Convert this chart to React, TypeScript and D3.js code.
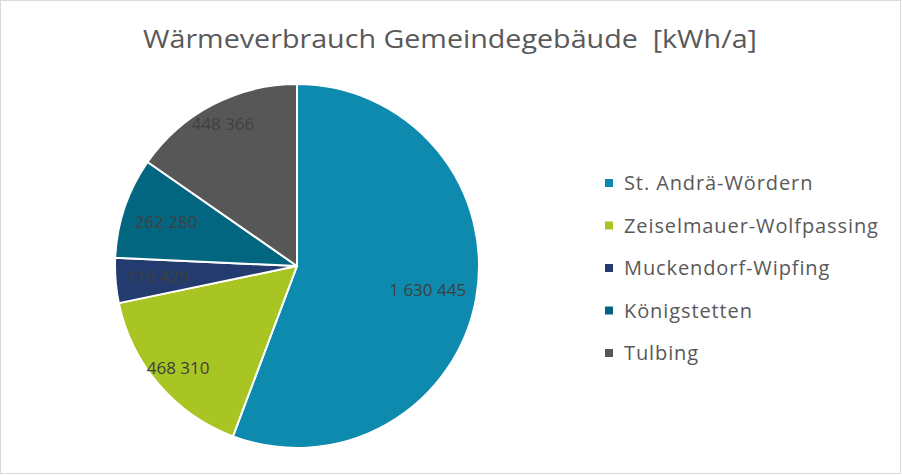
import React from "react";
import * as d3 from "d3";

const categories = [
  "St. Andrä-Wördern",
  "Zeiselmauer-Wolfpassing",
  "Muckendorf-Wipfing",
  "Königstetten",
  "Tulbing",
];
const values = [1630445, 468310, 116429, 262280, 448366];
const labels = ["1 630 445", "468 310", "116 429", "262 280", "448 366"];
const colors = ["#0E8AAE", "#A8C523", "#233B6E", "#036680", "#575757"];
const labelRadiusFrac = [0.73, 0.86, 0.77, 0.76, 0.88];

const W = 902;
const H = 475;
const cx = 297;
const cy = 266;
const R = 182;

export default function App() {
  const pie = d3
    .pie<number>()
    .sort(null)
    .value((d) => d);
  const arcs = pie(values);
  const arcGen = d3.arc<d3.PieArcDatum<number>>().innerRadius(0).outerRadius(R);
  const font = "'Open Sans', sans-serif";
  const legendY = d3.scalePoint<string>().domain(categories).range([183, 353]);

  return (
    <svg
      width={W}
      height={H}
      style={{ position: "absolute", left: 0, top: 0, background: "#fff" }}
    >
      <rect x={0.5} y={0.5} width={W - 2} height={H - 2} fill="#fff" stroke="#D9D9D9" strokeWidth={1} />
      <text
        x={450}
        y={48}
        textAnchor="middle"
        fontFamily={font}
        fontSize={25}
        fill="#595959"
        textLength={614}
        lengthAdjust="spacingAndGlyphs"
        style={{ whiteSpace: "pre" }}
      >
        {"Wärmeverbrauch Gemeindegebäude  [kWh/a]"}
      </text>
      <g transform={`translate(${cx},${cy})`}>
        {arcs.map((a, i) => (
          <path key={i} d={arcGen(a) || ""} fill={colors[i]} stroke="#fff" strokeWidth={2} strokeLinejoin="round" />
        ))}
        {arcs.map((a, i) => {
          const mid = (a.startAngle + a.endAngle) / 2;
          const r = R * labelRadiusFrac[i];
          const x = Math.sin(mid) * r;
          const y = -Math.cos(mid) * r;
          return (
            <text
              key={i}
              x={x}
              y={y}
              dy="0.35em"
              textAnchor="middle"
              fontFamily={font}
              fontSize={17}
              fill="#404040"
            >
              {labels[i]}
            </text>
          );
        })}
      </g>
      <g>
        {categories.map((c, i) => (
          <g key={c} transform={`translate(605,${legendY(c)})`}>
            <rect x={0} y={-4} width={8} height={8} fill={colors[i]} />
            <text
              x={19}
              y={0}
              dy="0.35em"
              fontFamily={font}
              fontSize={20}
              letterSpacing={0.9}
              fill="#595959"
            >
              {c}
            </text>
          </g>
        ))}
      </g>
    </svg>
  );
}
